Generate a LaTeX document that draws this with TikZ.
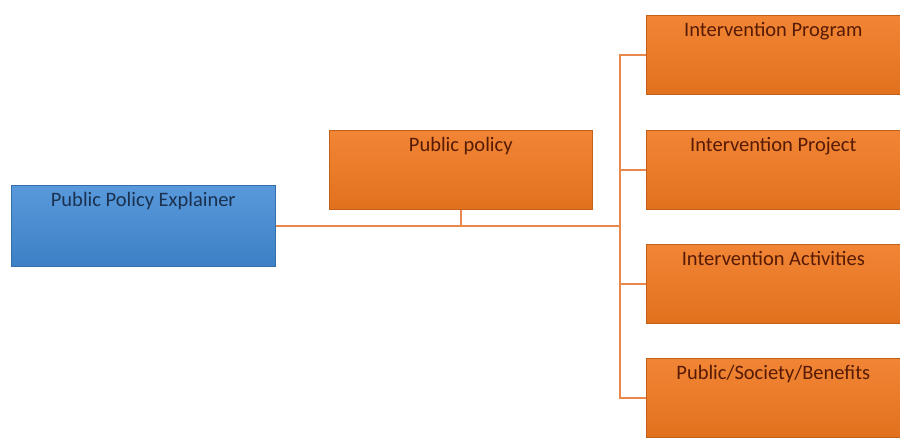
\documentclass[tikz,border=0pt]{standalone}
\usepackage{fontspec}
\setmainfont{Carlito}
\usepackage{xcolor}
\definecolor{box-blue}{HTML}{428BD6}
\definecolor{box-orange}{HTML}{F0781F}
\definecolor{text-blue}{HTML}{1A3150}
\definecolor{text-brown}{HTML}{561A05}
\definecolor{link-orange}{HTML}{E8884A}

\begin{document}
\begin{tikzpicture}[x=1pt, y=-1pt,
    boxbase/.style={anchor=north west, inner xsep=0pt, inner ysep=6pt,
          text height=15.5pt, font=\fontsize{20.5}{24}\selectfont},
    bluebox/.style={boxbase, draw=box-blue!80!black, line width=0.6pt,
          top color=box-blue!88!white, bottom color=box-blue!92!black,
          text=text-blue, minimum width=264pt, text depth=53.5pt},
    orangebox/.style={boxbase, draw=box-orange!80!black, line width=0.6pt,
          top color=box-orange!90!white, bottom color=box-orange!94!black,
          text=text-brown, text depth=51.5pt},
    link/.style={draw=link-orange, line width=1.8pt}]
    \useasboundingbox (0,0) rectangle (900,437);
    % left and middle boxes
    \node[bluebox] (expl) at (11,185) {Public Policy Explainer};
    \node[orangebox, minimum width=263pt] (policy) at (329,130) {Public policy};
    % right column
    \node[orangebox, minimum width=254pt] (prog) at (646,15) {Intervention Program};
    \node[orangebox, minimum width=254pt] (proj) at (646,130) {Intervention Project};
    \node[orangebox, minimum width=254pt] (act) at (646,244) {Intervention Activities};
    \node[orangebox, minimum width=254pt] (ben) at (646,358) {Public/Society/Benefits};
    % connectors
    \coordinate (bus) at (620,226);
    \coordinate (join) at (policy.south |- bus);
    \draw[link] (expl.east |- bus) -- (bus);
    \draw[link] (policy.south) -- (join);
    \draw[link] (prog.west) -| (bus);
    \draw[link] (ben.west) -| (bus);
    \draw[link] (proj.west) -- (proj.west -| bus);
    \draw[link] (act.west) -- (act.west -| bus);
\end{tikzpicture}
\end{document}
